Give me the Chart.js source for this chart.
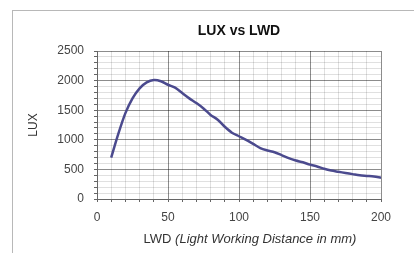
<!DOCTYPE html>
<html>
<head>
<meta charset="utf-8">
<script src="https://cdn.jsdelivr.net/npm/chart.js@4/dist/chart.umd.min.js"></script>
<style>
  html, body { margin: 0; padding: 0; background: #fff; }
  #wrap { position: relative; width: 414px; height: 253px; }
  #frame { position: absolute; left: 12px; top: 10px; width: 402px; height: 243px;
           border-top: 1px solid #b8b8b8; border-left: 1px solid #b8b8b8; box-sizing: border-box; }
  canvas { position: absolute; left: 0; top: 0; }
</style>
</head>
<body>
<div id="wrap">
  <div id="frame"></div>
  <canvas id="chart" width="414" height="253"></canvas>
</div>
<script>
// -- data ------------------------------------------------------------------->
const lwd = [10, 15, 20, 25, 30, 35, 40, 45, 50, 55, 60, 65, 70, 75, 80, 85, 90, 95, 100,
             105, 110, 115, 120, 125, 130, 135, 140, 145, 150, 155, 160, 165, 170, 175,
             180, 185, 190, 195, 200];
const lux = [700, 1100, 1450, 1700, 1870, 1970, 2010, 1990, 1930, 1880, 1790, 1700, 1620,
             1530, 1420, 1340, 1220, 1120, 1060, 1000, 930, 860, 820, 790, 740, 690, 650,
             620, 580, 550, 510, 480, 460, 440, 420, 400, 390, 380, 360];
const titleText = 'LUX vs LWD';
const yTitle = 'LUX';
const xTitleMain = 'LWD ';
const xTitleNote = '(Light Working Distance in mm)';

const fontFamily = '"Liberation Sans", Arial, sans-serif';

// title sits over the plot area, and the x title mixes plain + italic,
// so both are drawn by hand
const textPlugin = {
    id: 'texts',
    afterDraw(chart) {
        const c = chart.ctx;
        const area = chart.chartArea;
        c.save();
        c.textBaseline = 'middle';

        c.fillStyle = '#111';
        c.textAlign = 'center';
        c.font = 'bold 14px ' + fontFamily;
        c.fillText(titleText, (area.left + area.right) / 2, 31);

        c.textAlign = 'left';
        c.fillStyle = '#333';
        c.font = '13px ' + fontFamily;
        const w1 = c.measureText(xTitleMain).width;
        c.font = 'italic 13px ' + fontFamily;
        const w2 = c.measureText(xTitleNote).width;
        const x = 250 - (w1 + w2) / 2;
        const y = 239;
        c.font = '13px ' + fontFamily;
        c.fillText(xTitleMain, x, y);
        c.font = 'italic 13px ' + fontFamily;
        c.fillText(xTitleNote, x + w1, y);
        c.restore();
    }
};

const gridColor = (step) => (ctx) =>
    ctx.tick && ctx.tick.value % step === 0 ? 'rgba(0,0,0,0.45)' : 'rgba(0,0,0,0.12)';

new Chart(document.getElementById('chart'), {
    type: 'line',
    data: {
        datasets: [{
            data: lwd.map((v, i) => ({ x: v, y: lux[i] })),
            borderColor: '#4b4a8e',
            borderWidth: 2.5,
            pointRadius: 0,
            tension: 0.3,
            fill: false
        }]
    },
    options: {
        responsive: false,
        animation: false,
        layout: { padding: { left: 24, right: 33, top: 51, bottom: 0 } },
        plugins: {
            legend: { display: false },
            tooltip: { enabled: false },
            title: { display: false }
        },
        scales: {
            x: {
                type: 'linear',
                min: 0,
                max: 200,
                ticks: {
                    stepSize: 10,
                    autoSkip: false,
                    maxRotation: 0,
                    padding: 8,
                    color: '#444',
                    font: { family: fontFamily, size: 12 },
                    callback: (v) => v % 50 === 0 ? v : ''
                },
                grid: { color: gridColor(50), tickColor: '#666', tickLength: 3 },
                border: { color: '#666' },
                afterFit(scale) { scale.height = 54; }
            },
            y: {
                min: 0,
                max: 2500,
                ticks: {
                    stepSize: 100,
                    autoSkip: false,
                    padding: 10,
                    color: '#444',
                    font: { family: fontFamily, size: 12 },
                    callback: (v) => v % 500 === 0 ? v : ''
                },
                grid: { color: gridColor(500), tickColor: '#666', tickLength: 3 },
                border: { color: '#666' },
                title: {
                    display: true,
                    text: yTitle,
                    color: '#333',
                    font: { family: fontFamily, size: 12 },
                    padding: { top: 2, bottom: 0 }
                },
                afterFit(scale) { scale.width = 73; }
            }
        }
    },
    plugins: [textPlugin]
});
</script>
</body>
</html>
